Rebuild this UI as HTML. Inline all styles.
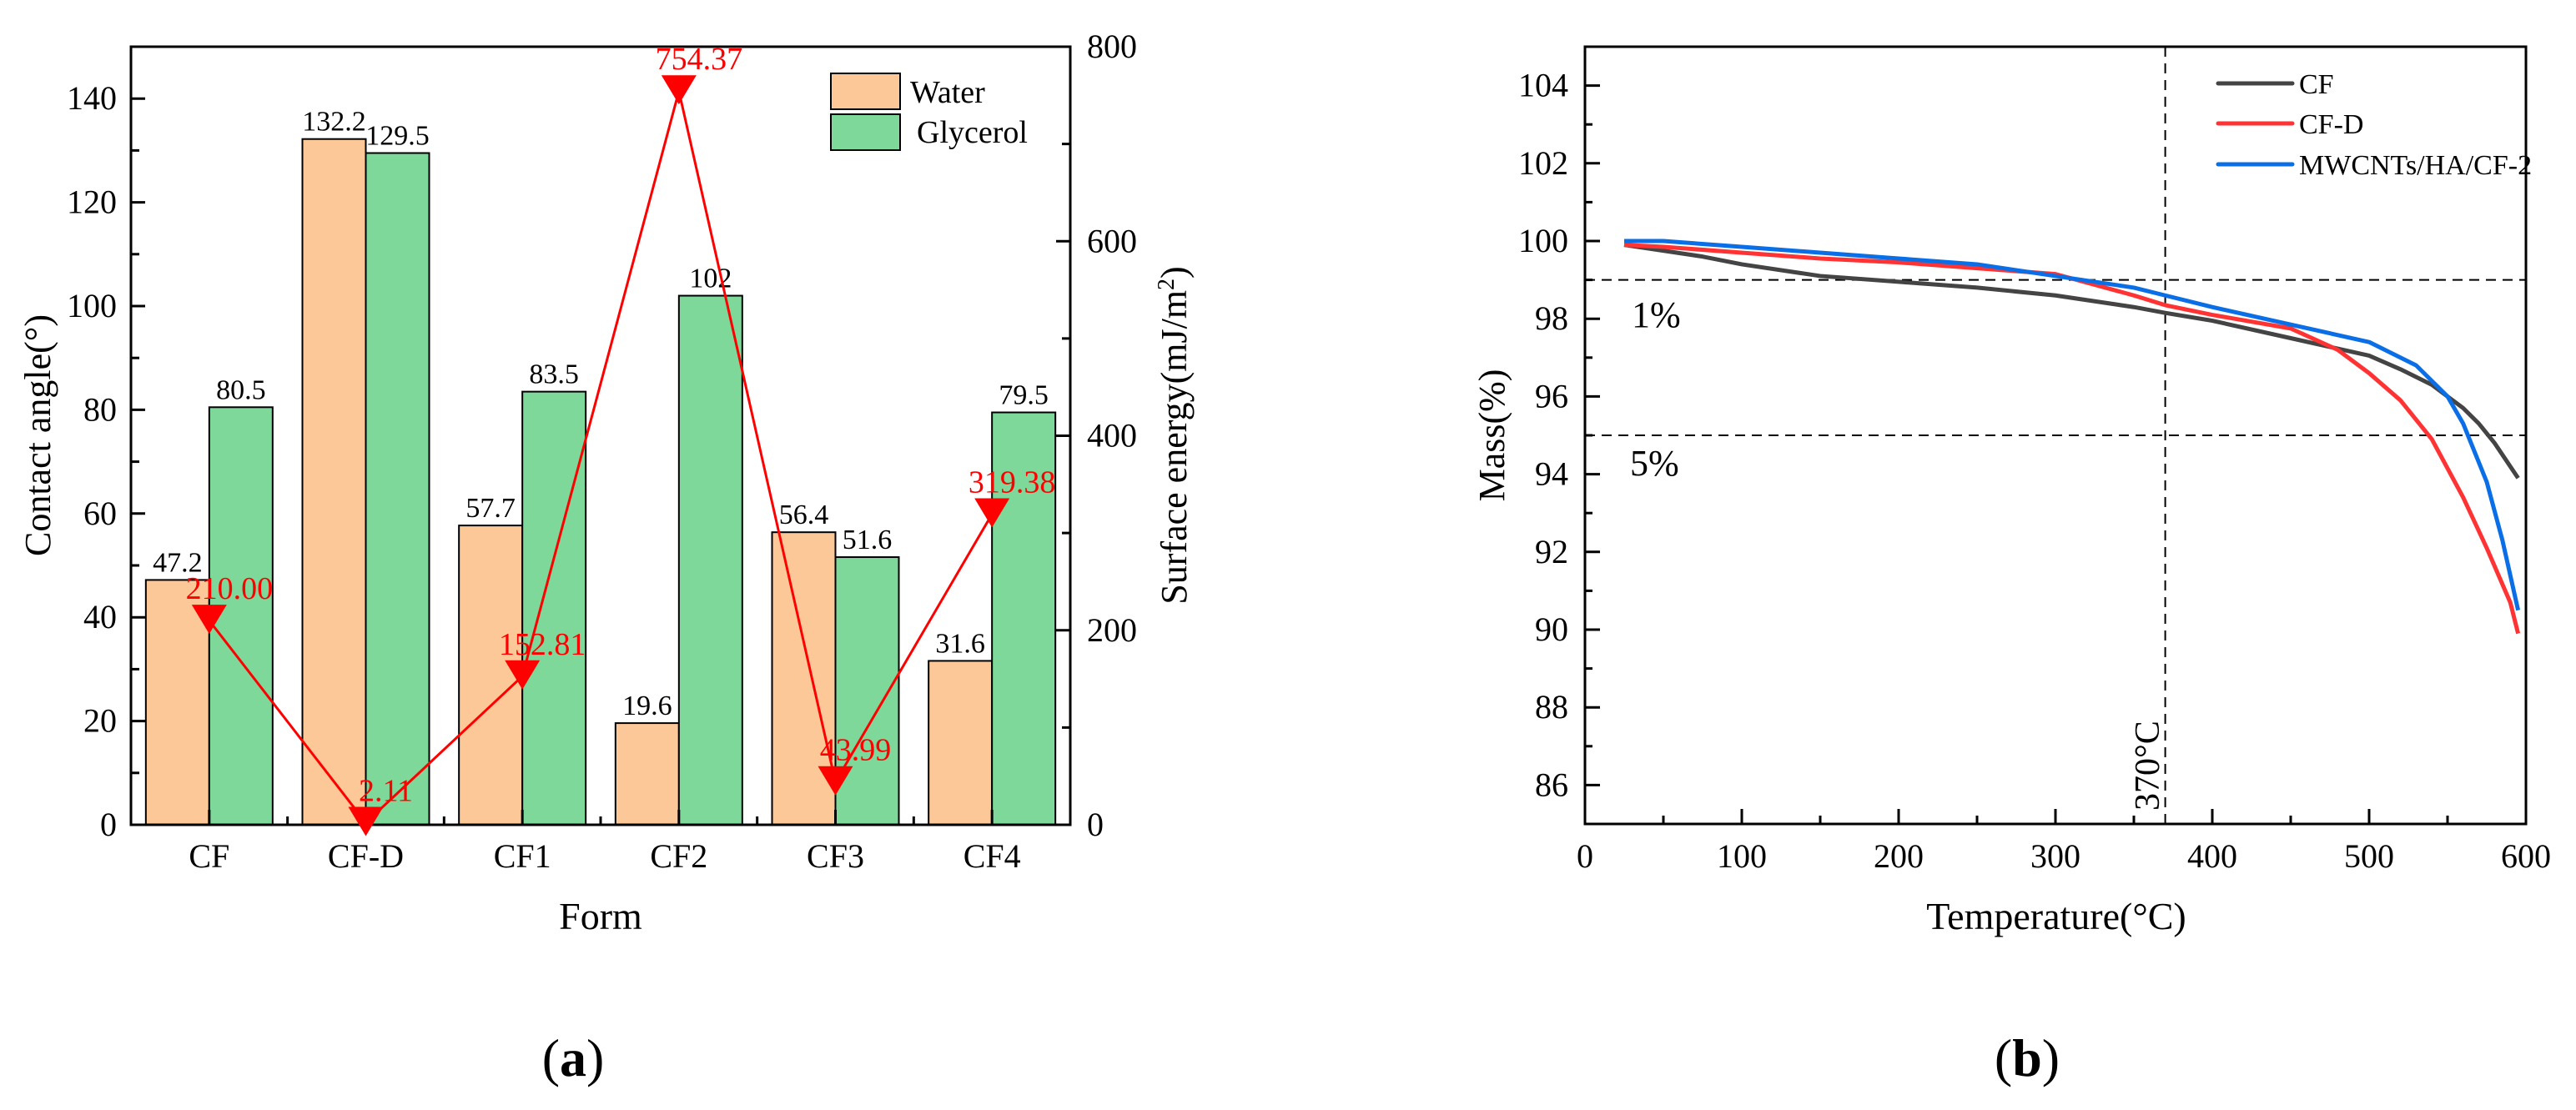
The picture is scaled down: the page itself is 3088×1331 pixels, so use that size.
<!DOCTYPE html>
<html><head><meta charset="utf-8"><style>
html,body{margin:0;padding:0;background:#fff;overflow:hidden;}
svg{display:block;font-family:"Liberation Serif",serif;}
</style></head><body>
<svg id="s" width="3088" height="1331" viewBox="0 0 3088 1331" xmlns="http://www.w3.org/2000/svg">
<g id="ga"></g>
<g id="gb"></g>
</svg>
<script>
const categories=["CF","CF-D","CF1","CF2","CF3","CF4"];
const waterValues=[47.2,132.2,57.7,19.6,56.4,31.6];
const glycerolValues=[80.5,129.5,83.5,102,51.6,79.5];
const energyValues=[210.00,2.11,152.81,754.37,43.99,319.38];
const energyLabels=["210.00","2.11","152.81","754.37","43.99","319.38"];
const leftTicks=[0,20,40,60,80,100,120,140];
const rightTicks=[0,200,400,600,800];

const temps=[25,50,75,100,150,200,250,300,350,370,400,450,500,520,540,560,570,580,595];
const cfMass=[99.9,99.75,99.6,99.4,99.1,98.95,98.8,98.6,98.3,98.15,97.95,97.5,97.05,96.7,96.3,95.7,95.3,94.8,93.9];
const cfdTemps=[25,50,100,150,200,250,300,350,370,400,450,480,500,520,540,560,575,590,595];
const cfdMass=[99.9,99.85,99.7,99.55,99.45,99.3,99.15,98.6,98.35,98.1,97.75,97.2,96.6,95.9,94.9,93.4,92.1,90.7,89.9];
const mwTemps=[25,50,100,150,200,250,300,350,370,400,450,500,530,550,560,575,585,595];
const mwMass=[100.0,100.0,99.85,99.7,99.55,99.4,99.1,98.8,98.6,98.3,97.85,97.4,96.8,96.0,95.3,93.8,92.3,90.5];
const xTicksB=[0,100,200,300,400,500,600];
const yTicksB=[86,88,90,92,94,96,98,100,102,104];

const NS="http://www.w3.org/2000/svg";
function mk(parent,tag,attrs,text){const e=document.createElementNS(NS,tag);for(const k in attrs)e.setAttribute(k,attrs[k]);if(text!==undefined)e.textContent=text;parent.appendChild(e);return e;}

// ---- Chart A ----
const ga=document.getElementById('ga');
const AX0=157,AX1=1283,AY0=989,AY1=56;
const yL=v=>AY0-(v/150)*(AY0-AY1);
const yR=v=>AY0-(v/800)*(AY0-AY1);
const step=(AX1-AX0)/categories.length;
const xC=i=>AX0+step*(i+0.5);
const bw=76;
categories.forEach((c,i)=>{
  let r=mk(ga,'rect',{x:xC(i)-bw,y:yL(waterValues[i]),width:bw,height:AY0-yL(waterValues[i]),fill:'#FDC897',stroke:'#000','stroke-width':2});
  
  
  let g=mk(ga,'rect',{x:xC(i),y:yL(glycerolValues[i]),width:bw,height:AY0-yL(glycerolValues[i]),fill:'#7DD89A',stroke:'#000','stroke-width':2});
  
  
  let t1=mk(ga,'text',{x:xC(i)-bw/2,y:yL(waterValues[i])-10,'font-size':34,'text-anchor':'middle'},String(waterValues[i]));
  
  
  let t2=mk(ga,'text',{x:xC(i)+bw/2,y:yL(glycerolValues[i])-10,'font-size':34,'text-anchor':'middle'},String(glycerolValues[i]));
  
  
  let tl=mk(ga,'text',{x:xC(i),y:1040,'font-size':40,'text-anchor':'middle'},c);
  
  
  mk(ga,'line',{x1:xC(i),x2:xC(i),y1:AY0,y2:AY0-18,stroke:'#000','stroke-width':3});
  mk(ga,'line',{x1:AX0+step*(i+1),x2:AX0+step*(i+1),y1:AY0,y2:AY0-10,stroke:'#000','stroke-width':3});
});
let fa=mk(ga,'rect',{x:AX0,y:AY1,width:AX1-AX0,height:AY0-AY1,fill:'none',stroke:'#000','stroke-width':3});


for(let v=0;v<=150;v+=10){const major=v%20===0;mk(ga,'line',{x1:AX0,x2:AX0+(major?17:10),y1:yL(v),y2:yL(v),stroke:'#000','stroke-width':3});}
leftTicks.forEach(v=>{let t=mk(ga,'text',{x:140,y:yL(v)+13,'font-size':40,'text-anchor':'end'},String(v));});
for(let v=0;v<=800;v+=100){const major=v%200===0;mk(ga,'line',{x1:AX1,x2:AX1-(major?17:10),y1:yR(v),y2:yR(v),stroke:'#000','stroke-width':3});}
rightTicks.forEach(v=>{let t=mk(ga,'text',{x:1303,y:yR(v)+13,'font-size':40,'text-anchor':'start'},String(v));});
let pts=energyValues.map((v,i)=>xC(i)+','+yR(v)).join(' ');
let pl=mk(ga,'polyline',{points:pts,fill:'none',stroke:'#FF0000','stroke-width':3});


energyValues.forEach((v,i)=>{
  const x=xC(i),y=yR(v);
  let m=mk(ga,'polygon',{points:`${x-21},${y-19} ${x+21},${y-19} ${x},${y+16}`,fill:'#FF0000'});
  
  
  let t=mk(ga,'text',{x:x+24,y:y-26,'font-size':38,'text-anchor':'middle',fill:'#FF0000'},energyLabels[i]);
  
  
});
let l1=mk(ga,'rect',{x:996,y:88,width:83,height:43,fill:'#FDC897',stroke:'#000','stroke-width':2});

let l2=mk(ga,'rect',{x:996,y:137,width:83,height:43,fill:'#7DD89A',stroke:'#000','stroke-width':2});

let lt1=mk(ga,'text',{x:1091,y:123,'font-size':38},'Water');
let lt2=mk(ga,'text',{x:1099,y:171,'font-size':38},'Glycerol');
let ta=mk(ga,'text',{x:0,y:0,'font-size':44,'text-anchor':'middle',transform:'translate(60,522) rotate(-90)'},'Contact angle(°)');

let tr=mk(ga,'text',{x:0,y:0,'font-size':44,'text-anchor':'middle',transform:'translate(1422,522) rotate(-90)'});

tr.innerHTML='Surface energy(mJ/m<tspan dy="-15" font-size="28">2</tspan><tspan dy="15">)</tspan>';
let tx=mk(ga,'text',{x:720,y:1114,'font-size':46,'text-anchor':'middle'},'Form');

let pa=mk(ga,'text',{x:687,y:1290,'font-size':64,'text-anchor':'middle'});

pa.innerHTML='(<tspan font-weight="bold">a</tspan>)';

// ---- Chart B ----
const gb=document.getElementById('gb');
const BX0=1900,BX1=3028,BY0=988,BY1=56;
const xB=v=>BX0+(v/600)*(BX1-BX0);
const yB=v=>BY0-((v-85)/20)*(BY0-BY1);
for(let v=0;v<=600;v+=50){const major=v%100===0;mk(gb,'line',{x1:xB(v),x2:xB(v),y1:BY0,y2:BY0-(major?18:10),stroke:'#000','stroke-width':3});}
xTicksB.forEach(v=>{let t=mk(gb,'text',{x:xB(v),y:1040,'font-size':40,'text-anchor':'middle'},String(v));});
for(let v=85;v<=105;v+=1){const major=v%2===0;mk(gb,'line',{x1:BX0,x2:BX0+(major?18:9),y1:yB(v),y2:yB(v),stroke:'#000','stroke-width':3});}
yTicksB.forEach(v=>{let t=mk(gb,'text',{x:1880,y:yB(v)+13,'font-size':40,'text-anchor':'end'},String(v));});
[99,95].forEach(v=>{let d=mk(gb,'line',{x1:BX0,x2:BX1,y1:yB(v),y2:yB(v),stroke:'#000','stroke-width':2,'stroke-dasharray':'12,8'});});
let vd=mk(gb,'line',{x1:xB(370),x2:xB(370),y1:BY1,y2:BY0,stroke:'#000','stroke-width':2,'stroke-dasharray':'12,8'});

function series(T,M,col,name){
  let p=mk(gb,'polyline',{points:T.map((t,i)=>xB(t)+','+yB(M[i])).join(' '),fill:'none',stroke:col,'stroke-width':5,'stroke-linejoin':'round'});
  
}
series(temps,cfMass,'#444444','line-cf');
series(cfdTemps,cfdMass,'#FF3333','line-cf-d');
series(mwTemps,mwMass,'#0A6FE6','line-mwcnts');
let fb=mk(gb,'rect',{x:BX0,y:BY1,width:BX1-BX0,height:BY0-BY1,fill:'none',stroke:'#000','stroke-width':3});

[['CF','#444444',100],['CF-D','#FF3333',148],['MWCNTs/HA/CF-2','#0A6FE6',197]].forEach(([n,c,y])=>{
  mk(gb,'line',{x1:2659,x2:2748,y1:y,y2:y,stroke:c,'stroke-width':5,'stroke-linecap':'round'});
  let t=mk(gb,'text',{x:2756,y:y+12,'font-size':34},n);
  
});
let p1=mk(gb,'text',{x:1956,y:392,'font-size':44},'1%');
let p5=mk(gb,'text',{x:1954,y:570,'font-size':44},'5%');
let t370=mk(gb,'text',{x:0,y:0,'font-size':42,'text-anchor':'start',transform:'translate(2588,972) rotate(-90)'},'370°C');

let ty=mk(gb,'text',{x:0,y:0,'font-size':44,'text-anchor':'middle',transform:'translate(1803,522) rotate(-90)'},'Mass(%)');

let txb=mk(gb,'text',{x:2465,y:1114,'font-size':46,'text-anchor':'middle'},'Temperature(°C)');

let pb=mk(gb,'text',{x:2430,y:1290,'font-size':64,'text-anchor':'middle'});

pb.innerHTML='(<tspan font-weight="bold">b</tspan>)';
</script>
</body></html>
